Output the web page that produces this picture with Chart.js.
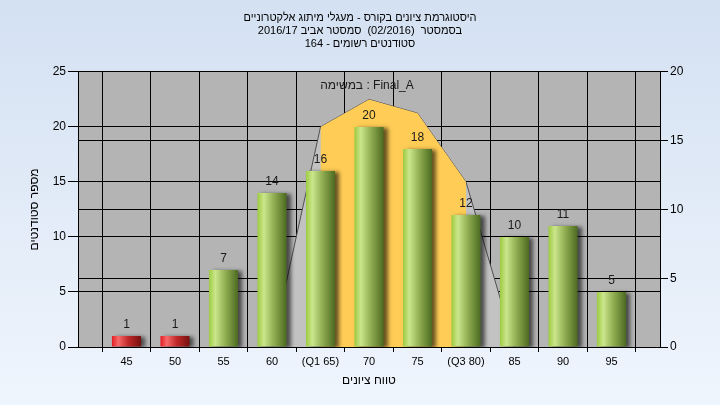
<!DOCTYPE html>
<html>
<head>
<meta charset="utf-8">
<script src="https://cdn.jsdelivr.net/npm/chart.js@4"></script>
<style>
  html, body { margin: 0; padding: 0; }
  #wrap { width: 720px; height: 405px; }
</style>
</head>
<body>
<div id="wrap"><canvas id="chart" width="720" height="405"></canvas></div>
<script>
const titleLines = [
  'היסטוגרמת ציונים בקורס - מעגלי מיתוג אלקטרוניים',
  'בסמסטר  (02/2016)  סמסטר אביב 2016/17',
  'סטודנטים רשומים - 164'
];
const legendText = 'במשימה : Final_A';
const yTitle = 'מספר סטודנטים';
const xTitle = 'טווח ציונים';

const grades = ['45', '50', '55', '60', '(Q1 65)', '70', '75', '(Q3 80)', '85', '90', '95'];
const students = [1, 1, 7, 14, 16, 20, 18, 12, 10, 11, 5];
const failing = [true, true, false, false, false, false, false, false, false, false, false];
// distribution curve on the right axis
const curve = [null, null, null, 0, 16, 18, 17, 12, 0, null, null];
const quartileBand = [null, null, null, null, 16, 18, 17, 12, null, null, null];

const leftMax = 25, rightMax = 20, tickStep = 5;

// one empty slot on each side of the categories
const pad = arr => [null, ...arr, null];
const labels = ['', ...grades, ''];

const FONT = '"Liberation Sans", Arial, sans-serif';

function barGradient(c) {
  const chart = c.chart;
  const x = chart.scales.x;
  const fallback = failing[c.dataIndex - 1] ? '#d02020' : '#9bc843';
  if (!x || c.dataIndex == null) return fallback;
  const cx = x.getPixelForValue(c.dataIndex);
  const w = (x.getPixelForValue(1) - x.getPixelForValue(0)) * 0.6;
  if (!isFinite(cx) || !isFinite(w) || w <= 0) return fallback;
  const g = chart.ctx.createLinearGradient(cx - w / 2, 0, cx + w / 2, 0);
  if (failing[c.dataIndex - 1]) {
    g.addColorStop(0, '#e41c24');
    g.addColorStop(0.22, '#f66a6a');
    g.addColorStop(0.55, '#c22a2a');
    g.addColorStop(1, '#761010');
  } else {
    g.addColorStop(0, '#9ccb40');
    g.addColorStop(0.22, '#cbe68c');
    g.addColorStop(0.55, '#93b054');
    g.addColorStop(1, '#4c6a20');
  }
  return g;
}

const background = {
  id: 'background',
  beforeDraw(chart) {
    const { ctx, chartArea: a } = chart;
    ctx.save();
    const g = ctx.createLinearGradient(0, 0, 0, chart.height);
    g.addColorStop(0, '#d4e1f2');
    g.addColorStop(1, '#eff5fd');
    ctx.fillStyle = g;
    ctx.fillRect(0, 0, chart.width, chart.height);
    ctx.fillStyle = '#b4b4b4';
    ctx.fillRect(a.left, a.top, a.right - a.left, a.bottom - a.top);
    ctx.restore();
  }
};

const barShadow = {
  id: 'barShadow',
  beforeDatasetDraw(chart, args) {
    if (args.index !== 0) return;
    const ctx = chart.ctx;
    ctx.save();
    ctx.shadowColor = 'rgba(0,0,0,0.6)';
    ctx.shadowOffsetX = 4;
    ctx.shadowOffsetY = 1;
    ctx.shadowBlur = 4;
  },
  afterDatasetDraw(chart, args) {
    if (args.index !== 0) return;
    chart.ctx.restore();
  }
};

const barLabels = {
  id: 'barLabels',
  afterDatasetsDraw(chart) {
    const { ctx } = chart;
    const meta = chart.getDatasetMeta(0);
    const values = chart.data.datasets[0].data;
    ctx.save();
    ctx.font = '12px ' + FONT;
    ctx.fillStyle = '#1a1a1a';
    ctx.textAlign = 'center';
    ctx.textBaseline = 'middle';
    meta.data.forEach((bar, i) => {
      if (values[i] == null) return;
      ctx.fillText(String(values[i]), bar.x, bar.y - 11);
    });
    // legend caption at the top of the plot
    ctx.fillText(legendText, chart.scales.x.getPixelForValue(6) - 2, chart.chartArea.top + 14);
    ctx.restore();
  }
};

const chart = new Chart(document.getElementById('chart'), {
  type: 'bar',
  data: {
    labels: labels,
    datasets: [
      {
        type: 'bar',
        data: pad(students),
        yAxisID: 'y',
        order: 0,
        backgroundColor: barGradient,
        borderWidth: 0,
        barPercentage: 0.6,
        categoryPercentage: 1
      },
      {
        type: 'line',
        data: pad(quartileBand),
        yAxisID: 'y1',
        order: 1,
        fill: 'origin',
        backgroundColor: '#ffcc55',
        borderWidth: 0,
        pointRadius: 0,
        tension: 0
      },
      {
        type: 'line',
        data: pad(curve),
        yAxisID: 'y1',
        order: 2,
        fill: 'origin',
        backgroundColor: '#c2c2c2',
        borderColor: '#505050',
        borderWidth: 1,
        pointRadius: 0,
        tension: 0
      }
    ]
  },
  options: {
    responsive: false,
    animation: false,
    layout: { padding: 0 },
    plugins: {
      legend: { display: false },
      tooltip: { enabled: false },
      title: {
        display: true,
        text: titleLines,
        color: '#000',
        font: { family: FONT, size: 11, weight: 'normal', lineHeight: 1.15 },
        padding: { top: 12, bottom: 22 }
      }
    },
    scales: {
      x: {
        offset: false,
        grid: { color: '#000', lineWidth: 1, tickLength: 5, drawOnChartArea: true },
        border: { color: '#000' },
        ticks: { color: '#000', font: { family: FONT, size: 11 }, padding: 3, maxRotation: 0, autoSkip: false },
        title: {
          display: true,
          text: xTitle,
          color: '#000',
          font: { family: FONT, size: 12 },
          padding: { top: 0, bottom: 17 }
        },
        afterFit: s => { s.height = 58; }
      },
      y: {
        position: 'left',
        min: 0,
        max: leftMax,
        ticks: { stepSize: tickStep, color: '#000', font: { family: FONT, size: 12 }, padding: 2 },
        grid: { color: '#000', lineWidth: 1, tickLength: 10 },
        border: { color: '#000' },
        title: {
          display: true,
          text: yTitle,
          color: '#000',
          font: { family: FONT, size: 12 },
          padding: { top: 27, bottom: 0 }
        },
        afterFit: s => { s.width = 78; }
      },
      y1: {
        position: 'right',
        min: 0,
        max: rightMax,
        ticks: { stepSize: tickStep, color: '#000', font: { family: FONT, size: 12 }, padding: 2 },
        grid: { color: '#000', lineWidth: 1, tickLength: 8 },
        border: { color: '#000' },
        afterFit: s => { s.width = 60; }
      }
    }
  },
  plugins: [background, barShadow, barLabels]
});
chart.update('none');
</script>
</body>
</html>
